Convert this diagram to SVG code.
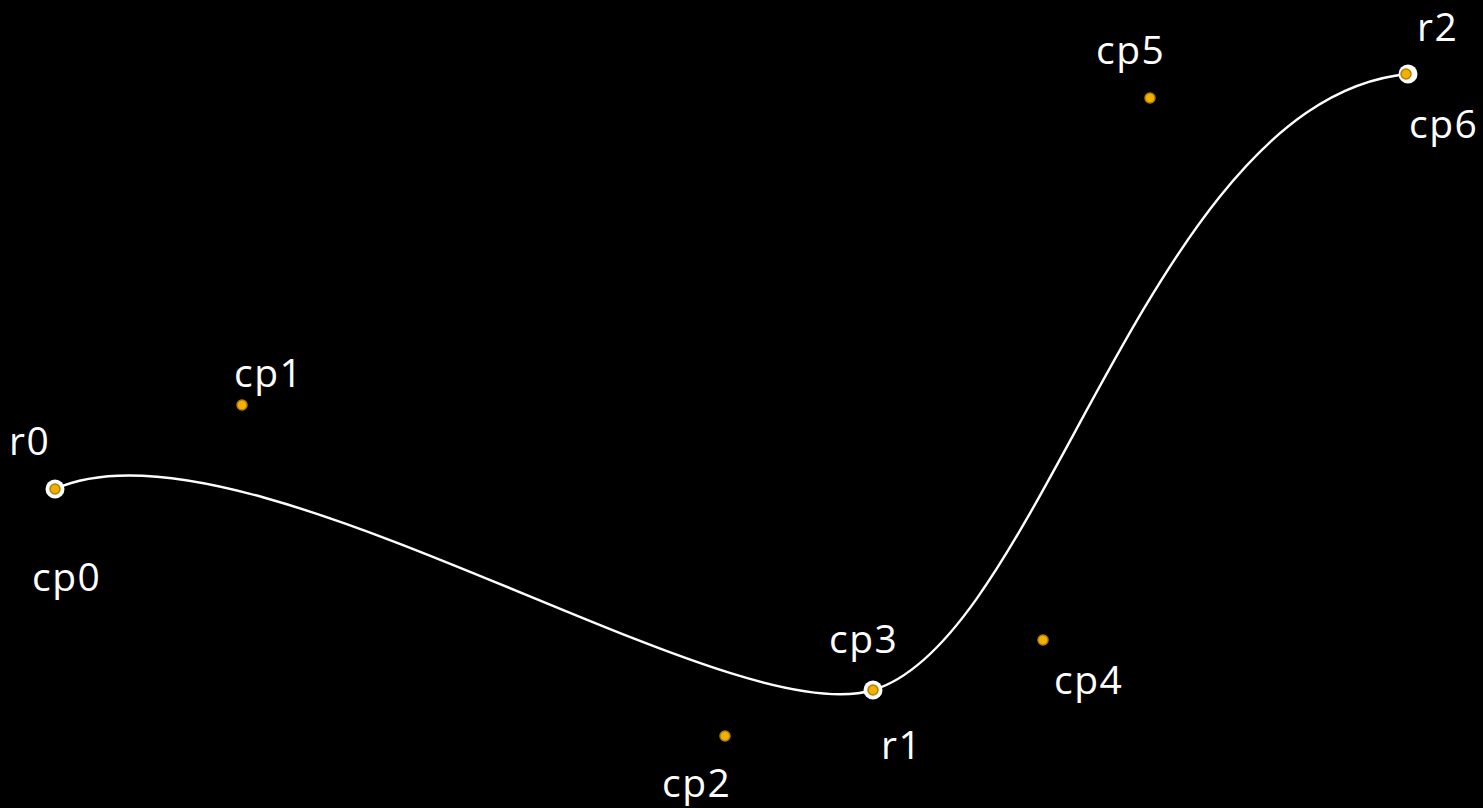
<svg xmlns="http://www.w3.org/2000/svg" width="1483" height="808" viewBox="0 0 1483 808">
<style>
.lbl{font-family:"Open Sans","Liberation Sans",sans-serif;font-size:39px;letter-spacing:1.5px;fill:#ffffff}
.ring{fill:#ffffff}
.cp{fill:#f2b000;stroke:#b57f00;stroke-width:1.5}
.curve{fill:none;stroke:#ffffff;stroke-width:2.4}
</style>
<rect width="1483" height="808" fill="#000000"/>
<g id="connectors">
<path class="curve" d="M55,489 C242,405 725,736 873,690 C1043,640 1150,98 1408,74"/>
</g>
<g id="r0"><circle class="ring" cx="55" cy="489" r="9.5"/><circle class="cp" cx="55" cy="489" r="5"/><text class="lbl" x="9" y="455">r0</text></g>
<g id="cp0"><text class="lbl" x="32" y="591">cp0</text></g>
<g id="cp1"><circle class="cp" cx="242" cy="405" r="5"/><text class="lbl" x="234" y="387">cp1</text></g>
<g id="cp2"><circle class="cp" cx="725" cy="736" r="5"/><text class="lbl" x="662" y="797">cp2</text></g>
<g id="r1"><circle class="ring" cx="873" cy="690" r="9.5"/><circle class="cp" cx="873" cy="690" r="5"/><text class="lbl" x="881" y="759">r1</text></g>
<g id="cp3"><text class="lbl" x="829" y="653">cp3</text></g>
<g id="cp4"><circle class="cp" cx="1043" cy="640" r="5"/><text class="lbl" x="1054" y="694">cp4</text></g>
<g id="cp5"><circle class="cp" cx="1150" cy="98" r="5"/><text class="lbl" x="1096" y="64">cp5</text></g>
<g id="r2"><circle class="ring" cx="1408" cy="74" r="9.5"/><circle class="cp" cx="1406" cy="74" r="5"/><text class="lbl" x="1417" y="41">r2</text></g>
<g id="cp6"><text class="lbl" x="1409" y="138">cp6</text></g>
</svg>
